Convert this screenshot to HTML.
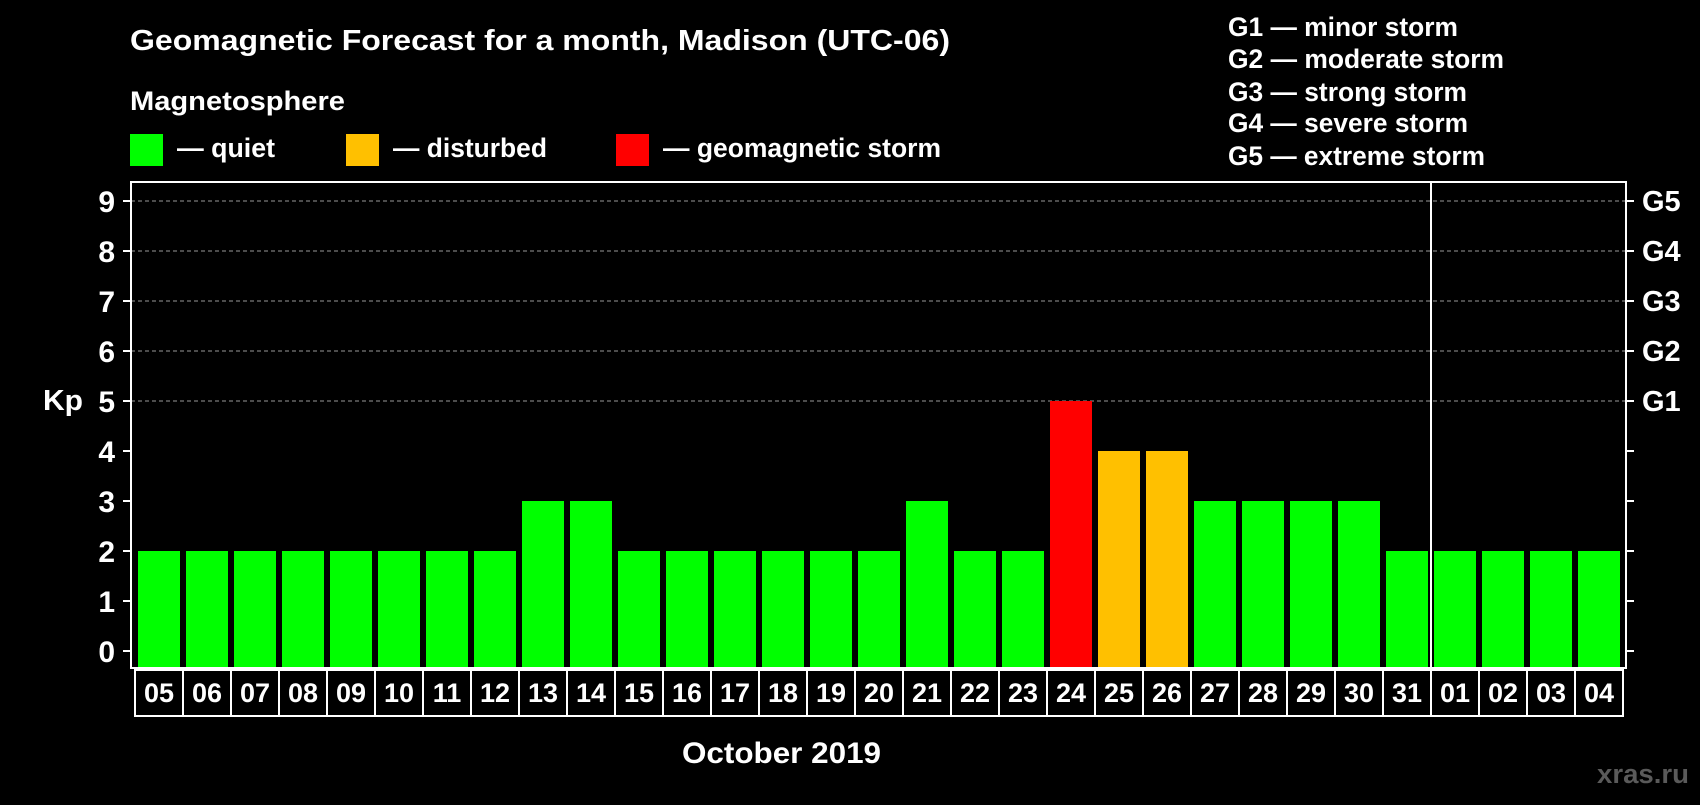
<!DOCTYPE html>
<html><head><meta charset="utf-8"><style>
body{margin:0;background:#000;width:1700px;height:800px;overflow:hidden;font-family:"Liberation Sans",sans-serif;font-weight:bold;color:#fff}
svg text{font-family:"Liberation Sans",sans-serif;font-weight:bold;fill:#fff}
</style></head><body>
<svg width="1700" height="800">
<text x="130" y="50" font-size="29" textLength="820" lengthAdjust="spacingAndGlyphs">Geomagnetic Forecast for a month, Madison (UTC-06)</text>
<text x="130" y="110" font-size="27" textLength="215" lengthAdjust="spacingAndGlyphs">Magnetosphere</text>
<rect x="130" y="134" width="33" height="32" fill="#00ff00"/>
<text x="177" y="157" font-size="27" textLength="98" lengthAdjust="spacingAndGlyphs">— quiet</text>
<rect x="346" y="134" width="33" height="32" fill="#ffc000"/>
<text x="393" y="157" font-size="27" textLength="154" lengthAdjust="spacingAndGlyphs">— disturbed</text>
<rect x="616" y="134" width="33" height="32" fill="#ff0000"/>
<text x="663" y="157" font-size="27" textLength="278" lengthAdjust="spacingAndGlyphs">— geomagnetic storm</text>
<g font-size="27">
<text x="1228" y="36" textLength="230" lengthAdjust="spacingAndGlyphs">G1 — minor storm</text>
<text x="1228" y="68" textLength="276" lengthAdjust="spacingAndGlyphs">G2 — moderate storm</text>
<text x="1228" y="101" textLength="239" lengthAdjust="spacingAndGlyphs">G3 — strong storm</text>
<text x="1228" y="132" textLength="240" lengthAdjust="spacingAndGlyphs">G4 — severe storm</text>
<text x="1228" y="165" textLength="257" lengthAdjust="spacingAndGlyphs">G5 — extreme storm</text>
</g>
<text x="43" y="410" font-size="29" textLength="40" lengthAdjust="spacingAndGlyphs">Kp</text>
<text x="682" y="763" font-size="30" textLength="199" lengthAdjust="spacingAndGlyphs">October 2019</text>
<text x="1597" y="783" font-size="27" textLength="92" lengthAdjust="spacingAndGlyphs" style="fill:#5a5a5a">xras.ru</text>
<g id="plot"></g>
</svg>
<script>
const days=["05","06","07","08","09","10","11","12","13","14","15","16","17","18","19","20","21","22","23","24","25","26","27","28","29","30","31","01","02","03","04"];
const kp=[2,2,2,2,2,2,2,2,3,3,2,2,2,2,2,2,3,2,2,5,4,4,3,3,3,3,2,2,2,2,2];
const yTicks=[0,1,2,3,4,5,6,7,8,9];
const gLabels=["G1","G2","G3","G4","G5"];
const NS="http://www.w3.org/2000/svg";
const g=document.getElementById('plot');
const L=131,R=1626,T=182,B=668,y0=651,unit=50,x0=138,pitch=48,bw=42;
const y=v=>y0-v*unit, x=i=>x0+i*pitch;
function mk(t,a){const e=document.createElementNS(NS,t);for(const k in a)e.setAttribute(k,a[k]);g.appendChild(e);return e;}
yTicks.forEach(v=>{
 if(v>=5){const l=mk('line',{x1:L,x2:R,y1:y(v),y2:y(v),stroke:'#999','stroke-dasharray':'4,3','stroke-width':1});
 
 }
 const t1=mk('line',{x1:L-8,x2:L,y1:y(v),y2:y(v),stroke:'#fff','stroke-width':2});
 
 
 const t2=mk('line',{x1:R,x2:R+8,y1:y(v),y2:y(v),stroke:'#fff','stroke-width':2});
 
 
 const tx=mk('text',{x:115,y:y(v)+11,'font-size':30,'text-anchor':'end'});tx.textContent=v;
 
 
});
gLabels.forEach((s,i)=>{
 const tx=mk('text',{x:1642,y:y(5+i)+10,'font-size':29});tx.textContent=s;
 
 
});
kp.forEach((v,i)=>{
 const c=v>=5?'#ff0000':v>=4?'#ffc000':'#00ff00';
 const r=mk('rect',{x:x(i),y:y(v),width:bw,height:B-y(v),fill:c});
 
 
 const bx=mk('rect',{x:x(i)-3,y:B+2,width:pitch,height:46,fill:'none',stroke:'#fff','stroke-width':2});
 
 
 const tx=mk('text',{x:x(i)+bw/2,y:B+34,'font-size':27,'text-anchor':'middle'});tx.textContent=days[i];
 
 
});
const fr=mk('rect',{x:L,y:T,width:R-L,height:B-T,fill:'none',stroke:'#fff','stroke-width':2});


const mi=days.indexOf("01");
const dv=mk('line',{x1:x(mi)-3,x2:x(mi)-3,y1:T,y2:B+48,stroke:'#fff','stroke-width':2});


</script>
</body></html>
